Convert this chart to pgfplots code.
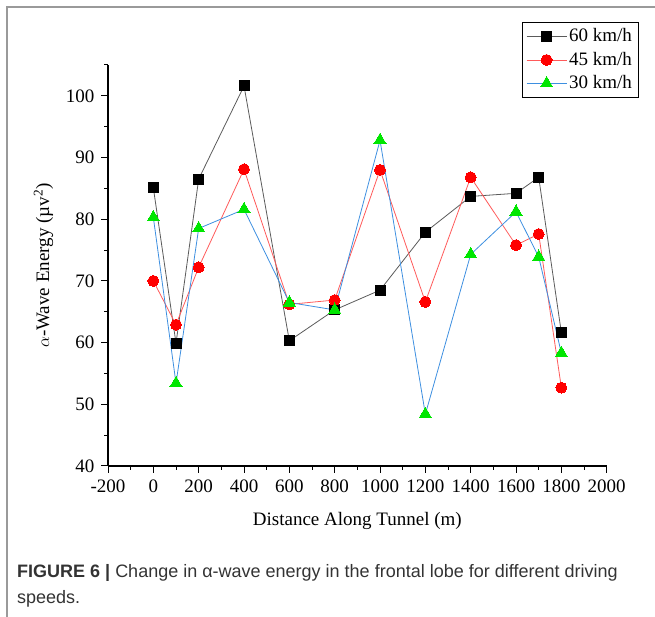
\documentclass[border=0pt]{standalone}
\usepackage{pgfplots}
\pgfplotsset{compat=1.18}
\usepackage{fontspec}
\setmainfont{Liberation Serif}
\newfontfamily\capfont{Liberation Sans}
\definecolor{lgray}{HTML}{5A5A5A}
\definecolor{lred}{HTML}{FF5A5A}
\definecolor{lblue}{HTML}{3D8FE0}
\definecolor{mgreen}{HTML}{00E600}
\definecolor{frame}{HTML}{9A9A9A}
\definecolor{captxt}{HTML}{333333}
\begin{document}
\fontsize{19}{22}\selectfont
\begin{tikzpicture}[x=1pt,y=1pt]
\useasboundingbox (0,0) rectangle (655,617);
\draw[frame, line width=1.6pt] (7,0) -- (7,610) -- (655,610);
\begin{axis}[
  at={(108pt,151pt)}, anchor=south west,
  scale only axis, width=498.7pt, height=401pt,
  xmin=-200, xmax=2000, ymin=40, ymax=105,
  axis lines=left,
  axis line style={-, line width=1.1pt},
  xtick={-200,0,...,2000},
  minor xtick={-100,100,...,1900},
  ytick={40,50,...,100},
  minor ytick={45,55,...,105},
  tick align=outside,
  major tick length=7pt, minor tick length=4pt,
  every tick/.style={black, line width=1pt},
  /pgf/number format/assume math mode=true,
  /pgf/number format/1000 sep={},
  xlabel={Distance Along Tunnel (m)},
  xlabel style={yshift=-7pt},
  ylabel={$\alpha$-Wave Energy (\textmu v\textsuperscript{2})},
  ylabel style={font=\fontsize{19}{22}\selectfont},
  legend style={at={(1.063,1.107)}, anchor=north east, draw=black, line width=0.6pt,
    font=\fontsize{19}{22}\selectfont, row sep=3.5pt, inner xsep=4pt, inner ysep=4pt},
  legend cell align=left,
  legend image code/.code={\draw[mark repeat=2,mark phase=2] plot coordinates {(0pt,0pt)(20pt,0pt)(40pt,0pt)};},
]
\addplot[lgray, line width=0.8pt, mark=square*, mark size=5pt,
  mark options={draw=black, fill=black, line width=0pt}] coordinates {
(0,85.1) (100,59.9) (200,86.5) (400,101.6) (600,60.3) (800,65.3)
(1000,68.5) (1200,77.9) (1400,83.7) (1600,84.2) (1700,86.8) (1800,61.6)};
\addlegendentry{60 km/h}
\addplot[lred, line width=0.8pt, mark=*, mark size=5.5pt,
  mark options={draw=red, fill=red, line width=0pt}] coordinates {
(0,70.0) (100,62.9) (200,72.2) (400,88.1) (600,66.2) (800,66.9)
(1000,88.0) (1200,66.6) (1400,86.8) (1600,75.8) (1700,77.6) (1800,52.7)};
\addlegendentry{45 km/h}
\addplot[lblue, line width=0.8pt, mark=triangle*, mark size=7pt,
  mark options={draw=mgreen, fill=mgreen, line width=0pt}] coordinates {
(0,80.3) (100,53.4) (200,78.5) (400,81.6) (600,66.5) (800,65.3)
(1000,92.8) (1200,48.4) (1400,74.3) (1600,81.2) (1700,73.9) (1800,58.3)};
\addlegendentry{30 km/h}
\end{axis}
\node[anchor=base west, inner sep=0pt, text=captxt, font=\capfont\fontsize{18}{22}\selectfont] at (17,39)
  {\textbf{FIGURE 6 |} Change in α-wave energy in the frontal lobe for different driving};
\node[anchor=base west, inner sep=0pt, text=captxt, font=\capfont\fontsize{18}{22}\selectfont] at (17,13)
  {speeds.};
\end{tikzpicture}
\end{document}
